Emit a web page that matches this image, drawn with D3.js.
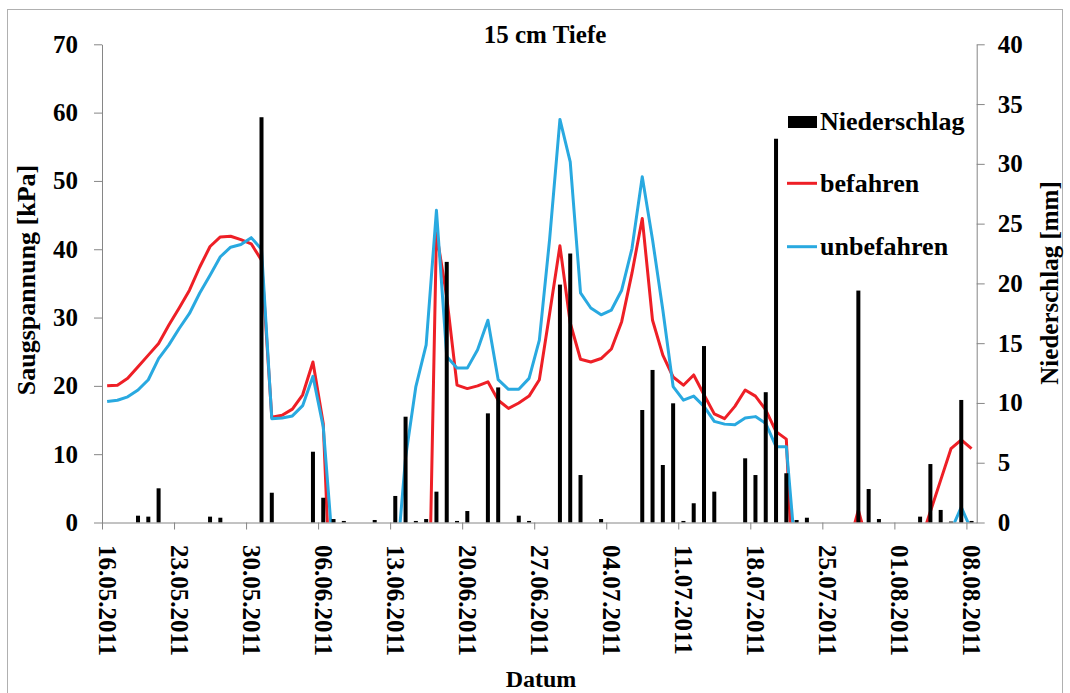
<!DOCTYPE html>
<html>
<head>
<meta charset="utf-8">
<script src="https://cdn.jsdelivr.net/npm/d3@7"></script>
<style>
  body { margin: 0; background: #fff; }
  svg { display: block; font-family: "Liberation Serif", "Times New Roman", serif; font-weight: bold; }
  .axis path, .axis line { stroke: #868686; stroke-width: 1; }
  .axis text { fill: #000; font-size: 25px; font-family: "Liberation Serif", "Times New Roman", serif; font-weight: bold; }
</style>
</head>
<body>
<div id="chart"></div>
<script>
(function () {

  // Data, one value per day starting 16.05.2011
  var startDay = "2011-05-16"

  var tickLabels = ["16.05.2011", "23.05.2011", "30.05.2011", "06.06.2011", "13.06.2011",
    "20.06.2011", "27.06.2011", "04.07.2011", "11.07.2011", "18.07.2011",
    "25.07.2011", "01.08.2011", "08.08.2011"]

  // Niederschlag [mm] (right axis)
  var niederschlag = [
    0, 0, 0, 0.57, 0.49, 2.86, 0,
    0, 0, 0, 0.49, 0.40, 0, 0,
    0, 33.9, 2.49, 0, 0, 0, 5.92,
    2.07, 0.29, 0.13, 0, 0, 0.21, 0,
    2.22, 8.85, 0.13, 0.29, 2.58, 21.8, 0.13,
    0.96, 0, 9.13, 11.3, 0, 0.57, 0.13,
    0, 0, 19.9, 22.5, 3.97, 0, 0.29,
    0, 0, 0, 9.41, 12.76, 4.81, 9.97,
    0.13, 1.61, 14.76, 2.58, 0, 0, 5.37,
    3.97, 10.9, 32.1, 4.12, 0.21, 0.40, 0,
    0, 0, 0, 19.4, 2.8, 0.29, 0,
    0, 0, 0.49, 4.89, 1.05, 0.08, 10.25,
    0.13
  ]

  // Saugspannung [kPa], befahren (values below 0 fall outside the plot and are cut off)
  var befahren = [
    20.0, 20.1, 21.1, 22.8, 24.5, 26.2, 28.9,
    31.4, 34.0, 37.4, 40.4, 41.8, 41.9, 41.4,
    40.8, 38.4, 15.4, 15.7, 16.6, 18.7, 23.5,
    14.5, -21.8, null, null, null, null, null,
    null, null, null, -34, 42.4, 33, 20.1,
    19.6, 20.0, 20.6, 17.9, 16.7, 17.5, 18.5,
    20.9, 30.6, 40.5, 29.2, 23.9, 23.5, 24.0,
    25.4, 29.4, 36.5, 44.5, 29.6, 24.5, 21.3,
    20.1, 21.6, 18.7, 15.9, 15.2, 17.0, 19.4,
    18.5, 16.5, 13.3, 12.2, -20.6, null, null,
    null, null, -3.7, 1.8, -3.7, null, null,
    null, null, -3, 1.6, 6.2, 10.8, 12.1,
    10.8
  ]

  // Saugspannung [kPa], unbefahren
  var unbefahren = [
    17.7, 17.9, 18.4, 19.4, 20.9, 24.0, 26.0,
    28.4, 30.6, 33.6, 36.2, 38.9, 40.3, 40.7,
    41.7, 40.0, 15.2, 15.3, 15.6, 17.1, 21.4,
    14.0, -5.2, null, null, null, null, null,
    -8.4, 9.5, 19.9, 26.0, 45.7, 24.3, 22.6,
    22.6, 25.3, 29.6, 20.9, 19.5, 19.5, 21.1,
    26.7, 41.5, 59.0, 52.8, 33.6, 31.4, 30.4,
    31.1, 34.0, 40.1, 50.6, 41.4, 31.1, 19.9,
    17.9, 18.5, 17.0, 14.8, 14.4, 14.3, 15.3,
    15.5, 14.5, 11.1, 11.1, -6.5, null, null,
    null, null, null, null, null, null, null,
    null, null, null, null, null, -1.2, 2.25,
    -1.2
  ]

  var leftTicks = [0, 10, 20, 30, 40, 50, 60, 70]
  var rightTicks = [0, 5, 10, 15, 20, 25, 30, 35, 40]

  var seriesInfo = [
    { name: "befahren", values: befahren, color: "#ee1f26" },
    { name: "unbefahren", values: unbefahren, color: "#29a9e0" }
  ]

  // Create the SVG
  var margin = { top: 44.3, right: 93.3, bottom: 170.5, left: 102 }
  var width = 1070 - margin.left - margin.right,
    height = 693 - margin.top - margin.bottom

  var root = d3.select("#chart").append("svg")
    .attr("width", 1070)
    .attr("height", 693)

  root.append("rect")
    .attr("x", 7.5).attr("y", 9.5)
    .attr("width", 1055).attr("height", 700)
    .attr("fill", "#fff")
    .attr("stroke", "#b0b0b0")

  var svg = root.append("g")
    .attr("transform", "translate(" + margin.left + "," + margin.top + ")")

  // Scales
  var parseDay = d3.utcParse("%Y-%m-%d")
  var parseLabel = d3.utcParse("%d.%m.%Y")
  var day0 = parseDay(startDay)
  var nDays = niederschlag.length
  var days = niederschlag.map(function (v, i) { return d3.utcDay.offset(day0, i) })

  var xScale = d3.scaleUtc()
    .domain([day0, d3.utcDay.offset(day0, nDays)])
    .range([0, width])

  var dayWidth = width / nDays
  function xMid(d) { return xScale(d3.utcHour.offset(d, 12)) }

  var yLeft = d3.scaleLinear().domain([0, 70]).range([height, 0])
  var yRight = d3.scaleLinear().domain([0, 40]).range([height, 0])

  // clip so values beyond the axis range vanish like in the original
  svg.append("clipPath").attr("id", "plot-clip")
    .append("rect").attr("x", 0).attr("y", 0).attr("width", width).attr("height", height)

  // Lines
  var line = d3.line()
    .defined(function (d) { return d.v !== null })
    .x(function (d) { return xMid(d.day) })
    .y(function (d) { return yLeft(d.v) })

  svg.append("g")
    .attr("clip-path", "url(#plot-clip)")
    .selectAll(".series")
    .data(seriesInfo)
    .enter().append("path")
    .attr("class", "series")
    .attr("fill", "none")
    .attr("stroke", function (d) { return d.color })
    .attr("stroke-width", 3)
    .attr("stroke-linejoin", "round")
    .attr("d", function (s) {
      return line(s.values.map(function (v, i) { return { day: days[i], v: v } }))
    })

  // Bars (secondary axis, drawn on top of the lines)
  var barW = 4
  svg.selectAll(".bar")
    .data(niederschlag.map(function (v, i) { return { day: days[i], v: v } })
      .filter(function (d) { return d.v > 0 }))
    .enter().append("rect")
    .attr("class", "bar")
    .attr("x", function (d) { return xMid(d.day) - barW / 2 })
    .attr("y", function (d) { return yRight(d.v) })
    .attr("width", barW)
    .attr("height", function (d) { return height - yRight(d.v) })
    .attr("fill", "#000")

  // Axes
  svg.append("g")
    .attr("class", "axis y-axis")
    .call(d3.axisLeft(yLeft).tickValues(leftTicks).tickSize(8).tickSizeOuter(0).tickPadding(16))

  svg.append("g")
    .attr("class", "axis y-axis-right")
    .attr("transform", "translate(" + width + ",0)")
    .call(d3.axisRight(yRight).tickValues(rightTicks).tickSize(8).tickSizeOuter(0).tickPadding(13))

  var xAxis = d3.axisBottom(xScale)
    .tickValues(tickLabels.map(function (t) { return parseLabel(t) }))
    .tickFormat(d3.utcFormat("%d.%m.%Y"))
    .tickSize(7)
    .tickSizeOuter(0)

  svg.append("g")
    .attr("class", "axis x-axis")
    .attr("transform", "translate(0," + height + ")")
    .call(xAxis)
    .selectAll("text")
    .attr("x", 0).attr("y", 0)
    .attr("dy", "0.35em")
    .attr("text-anchor", "start")
    .attr("transform", "translate(" + (dayWidth / 2) + ",22.5) rotate(90)")

  // Titles
  root.append("text")
    .attr("x", 545).attr("y", 43)
    .attr("text-anchor", "middle")
    .attr("font-size", 25)
    .text("15 cm Tiefe")

  root.append("text")
    .attr("transform", "translate(35,280) rotate(-90)")
    .attr("text-anchor", "middle")
    .attr("font-size", 26)
    .text("Saugspannung [kPa]")

  root.append("text")
    .attr("transform", "translate(1058,283) rotate(-90)")
    .attr("text-anchor", "middle")
    .attr("font-size", 25)
    .text("Niederschlag [mm]")

  root.append("text")
    .attr("x", 541).attr("y", 687)
    .attr("text-anchor", "middle")
    .attr("font-size", 24)
    .text("Datum")

  // Legend
  var legend = root.append("g").attr("transform", "translate(787,0)")

  legend.append("rect")
    .attr("x", 1).attr("y", 116).attr("width", 29).attr("height", 12)
    .attr("fill", "#000")
  legend.append("text").attr("x", 33).attr("y", 130).attr("font-size", 26).text("Niederschlag")

  legend.selectAll(".legend-line")
    .data(seriesInfo)
    .enter().append("line")
    .attr("class", "legend-line")
    .attr("x1", 0).attr("x2", 30)
    .attr("y1", function (d, i) { return 183.3 + i * 63.4 })
    .attr("y2", function (d, i) { return 183.3 + i * 63.4 })
    .attr("stroke", function (d) { return d.color })
    .attr("stroke-width", 3)

  legend.selectAll(".legend-label")
    .data(seriesInfo)
    .enter().append("text")
    .attr("class", "legend-label")
    .attr("x", 33)
    .attr("y", function (d, i) { return 191.7 + i * 63.4 })
    .attr("font-size", 26)
    .text(function (d) { return d.name })

})()
</script>
</body>
</html>
